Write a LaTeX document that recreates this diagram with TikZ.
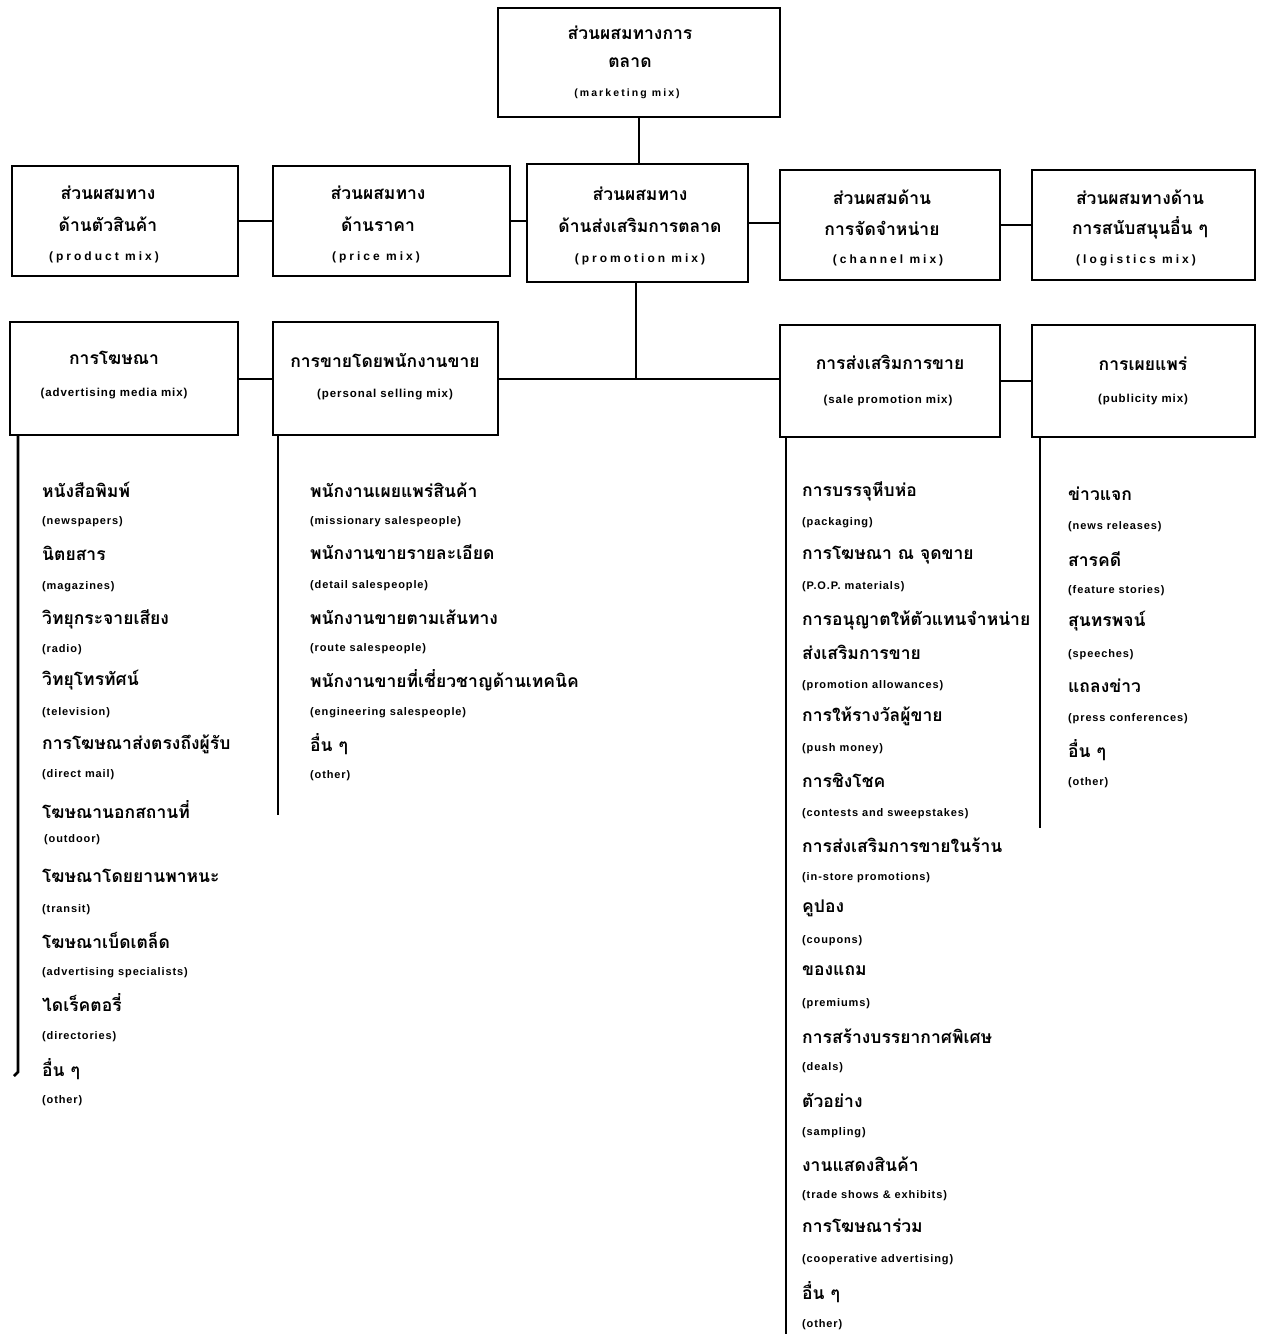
\documentclass[tikz,border=0pt]{standalone}
\usepackage{fontspec}
\newfontfamily\thaifont[Script=Thai]{Loma}
\newfontfamily\enlist[LetterSpace=8]{Liberation Sans}
\newfontfamily\enwide[LetterSpace=20]{Liberation Sans}
\newfontfamily\enwider[LetterSpace=25]{Liberation Sans}
\tikzset{
  box/.style={draw, line width=2.4pt, rectangle, inner sep=0pt},
  conn/.style={line width=2pt},
  vline/.style={line width=2.6pt},
  th/.style={font=\thaifont\bfseries\fontsize{17.5}{21}\selectfont, inner sep=0pt},
  en/.style={font=\enlist\bfseries\fontsize{11}{13}\selectfont, inner sep=0pt},
  enb/.style={font=\enlist\bfseries\fontsize{11.5}{13}\selectfont, inner sep=0pt},
  ens/.style={font=\enwide\bfseries\fontsize{10.5}{12}\selectfont, inner sep=0pt},
  ensb/.style={font=\enwider\bfseries\fontsize{12}{14}\selectfont, inner sep=0pt},
  li/.style={th, anchor=west},
  le/.style={en, anchor=west}
}
\begin{document}
\begin{tikzpicture}[x=1pt,y=-1pt]
\useasboundingbox (0,0) rectangle (1261,1334);
% top box
\node[box, minimum width=282pt, minimum height=109pt] (top) at (639,62.5) {};
\node[th] (top1) at (630,33) {ส่วนผสมทางการ};
\node[th] (top2) at (630,63) {ตลาด};
\node[ens] (top3) at (627,94) {(marketing mix)};
% row 2
\node[box, minimum width=226pt, minimum height=110pt] (b21) at (125,221) {};
\node[box, minimum width=237pt, minimum height=110pt] (b22) at (391.5,221) {};
\node[box, minimum width=221pt, minimum height=118pt] (b23) at (637.5,223) {};
\node[box, minimum width=220pt, minimum height=110pt] (b24) at (890,225) {};
\node[box, minimum width=223pt, minimum height=110pt] (b25) at (1143.5,225) {};
\node[th] (t211) at (108,193) {ส่วนผสมทาง};
\node[th] (t212) at (108,224) {ด้านตัวสินค้า};
\node[ensb] (t213) at (104,257) {(product mix)};
\node[th] (t221) at (378,193) {ส่วนผสมทาง};
\node[th] (t222) at (378,224) {ด้านราคา};
\node[ensb] (t223) at (376,257) {(price mix)};
\node[th] (t231) at (640,194) {ส่วนผสมทาง};
\node[th] (t232) at (640,225) {ด้านส่งเสริมการตลาด};
\node[ensb] (t233) at (640,259) {(promotion mix)};
\node[th] (t241) at (882,197) {ส่วนผสมด้าน};
\node[th] (t242) at (882,228) {การจัดจำหน่าย};
\node[ensb] (t243) at (888,260) {(channel mix)};
\node[th] (t251) at (1140,197) {ส่วนผสมทางด้าน};
\node[th] (t252) at (1140,228) {การสนับสนุนอื่น ๆ};
\node[ensb] (t253) at (1136,260) {(logistics mix)};
% row 3
\node[box, minimum width=228pt, minimum height=113pt] (b31) at (124,378.5) {};
\node[box, minimum width=225pt, minimum height=113pt] (b32) at (385.5,378.5) {};
\node[box, minimum width=220pt, minimum height=112pt] (b33) at (890,381) {};
\node[box, minimum width=223pt, minimum height=112pt] (b34) at (1143.5,381) {};
\node[th] (t311) at (114,358) {การโฆษณา};
\node[enb] (t312) at (114,394) {(advertising media mix)};
\node[th] (t321) at (385,360) {การขายโดยพนักงานขาย};
\node[enb] (t322) at (385,395) {(personal selling mix)};
\node[th] (t331) at (890,362) {การส่งเสริมการขาย};
\node[enb] (t332) at (888,401) {(sale promotion mix)};
\node[th] (t341) at (1143,364) {การเผยแพร่};
\node[enb] (t342) at (1143,400) {(publicity mix)};
% connectors
\coordinate (j) at (636,378);
\draw[conn] (top.south) -- (top.south |- b23.north);
\draw[conn] (b21.east) -- (b22.west);
\draw[conn] (b22.east) -- (b22.east -| b23.west);
\draw[conn] (b23.east) -- (b23.east -| b24.west);
\draw[conn] (b24.east) -- (b25.west);
\draw[conn] (b23.south -| j) -- (j);
\draw[conn] (b31.east) -- (b31.east -| b32.west);
\draw[conn] (b32.east) -- (b32.east -| b33.west);
\draw[conn] (b33.east) -- (b34.west);
% list lines
\coordinate (e1) at (18,1072);
\coordinate (e2) at (278,815);
\coordinate (e3) at (786,1334);
\coordinate (e4) at (1040,828);
\draw[vline] (e1 |- b31.south) -- (e1) -- ++(-4,4);
\draw[vline] (e2 |- b32.south) -- (e2);
\draw[vline] (e3 |- b33.south) -- (e3);
\draw[vline] (e4 |- b34.south) -- (e4);
% advertising list
\node[li] (a1) at (42,490) {หนังสือพิมพ์};
\node[le] (a1e) at (42,522) {(newspapers)};
\node[li] (a2) at (42,553) {นิตยสาร};
\node[le] (a2e) at (42,587) {(magazines)};
\node[li] (a3) at (42,619) {วิทยุกระจายเสียง};
\node[le] (a3e) at (42,650) {(radio)};
\node[li] (a4) at (42,680) {วิทยุโทรทัศน์};
\node[le] (a4e) at (42,713) {(television)};
\node[li] (a5) at (42,744) {การโฆษณาส่งตรงถึงผู้รับ};
\node[le] (a5e) at (42,775) {(direct mail)};
\node[li] (a6) at (42,810) {โฆษณานอกสถานที่};
\node[le] (a6e) at (44,840) {(outdoor)};
\node[li] (a7) at (42,876) {โฆษณาโดยยานพาหนะ};
\node[le] (a7e) at (42,910) {(transit)};
\node[li] (a8) at (42,940) {โฆษณาเบ็ดเตล็ด};
\node[le] (a8e) at (42,973) {(advertising specialists)};
\node[li] (a9) at (42,1003) {ไดเร็คตอรี่};
\node[le] (a9e) at (42,1037) {(directories)};
\node[li] (a10) at (42,1069) {อื่น ๆ};
\node[le] (a10e) at (42,1101) {(other)};
% personal selling list
\node[li] (p1) at (310,490) {พนักงานเผยแพร่สินค้า};
\node[le] (p1e) at (310,522) {(missionary salespeople)};
\node[li] (p2) at (310,552) {พนักงานขายรายละเอียด};
\node[le] (p2e) at (310,586) {(detail salespeople)};
\node[li] (p3) at (310,617) {พนักงานขายตามเส้นทาง};
\node[le] (p3e) at (310,649) {(route salespeople)};
\node[li] (p4) at (310,680) {พนักงานขายที่เชี่ยวชาญด้านเทคนิค};
\node[le] (p4e) at (310,713) {(engineering salespeople)};
\node[li] (p5) at (310,744) {อื่น ๆ};
\node[le] (p5e) at (310,776) {(other)};
% sale promotion list
\node[li] (s1) at (802,491) {การบรรจุหีบห่อ};
\node[le] (s1e) at (802,523) {(packaging)};
\node[li] (s2) at (802,555) {การโฆษณา ณ จุดขาย};
\node[le] (s2e) at (802,587) {(P.O.P. materials)};
\node[li] (s3) at (802,620) {การอนุญาตให้ตัวแทนจำหน่าย};
\node[li] (s3b) at (802,652) {ส่งเสริมการขาย};
\node[le] (s3e) at (802,686) {(promotion allowances)};
\node[li] (s4) at (802,716) {การให้รางวัลผู้ขาย};
\node[le] (s4e) at (802,749) {(push money)};
\node[li] (s5) at (802,780) {การชิงโชค};
\node[le] (s5e) at (802,814) {(contests and sweepstakes)};
\node[li] (s6) at (802,845) {การส่งเสริมการขายในร้าน};
\node[le] (s6e) at (802,878) {(in-store promotions)};
\node[li] (s7) at (802,908) {คูปอง};
\node[le] (s7e) at (802,941) {(coupons)};
\node[li] (s8) at (802,971) {ของแถม};
\node[le] (s8e) at (802,1004) {(premiums)};
\node[li] (s9) at (802,1036) {การสร้างบรรยากาศพิเศษ};
\node[le] (s9e) at (802,1068) {(deals)};
\node[li] (s10) at (802,1100) {ตัวอย่าง};
\node[le] (s10e) at (802,1133) {(sampling)};
\node[li] (s11) at (802,1164) {งานแสดงสินค้า};
\node[le] (s11e) at (802,1196) {(trade shows \& exhibits)};
\node[li] (s12) at (802,1226) {การโฆษณาร่วม};
\node[le] (s12e) at (802,1260) {(cooperative advertising)};
\node[li] (s13) at (802,1292) {อื่น ๆ};
\node[le] (s13e) at (802,1325) {(other)};
% publicity list
\node[li] (u1) at (1068,494) {ข่าวแจก};
\node[le] (u1e) at (1068,527) {(news releases)};
\node[li] (u2) at (1068,559) {สารคดี};
\node[le] (u2e) at (1068,591) {(feature stories)};
\node[li] (u3) at (1068,621) {สุนทรพจน์};
\node[le] (u3e) at (1068,655) {(speeches)};
\node[li] (u4) at (1068,686) {แถลงข่าว};
\node[le] (u4e) at (1068,719) {(press conferences)};
\node[li] (u5) at (1068,750) {อื่น ๆ};
\node[le] (u5e) at (1068,783) {(other)};
\end{tikzpicture}
\end{document}
